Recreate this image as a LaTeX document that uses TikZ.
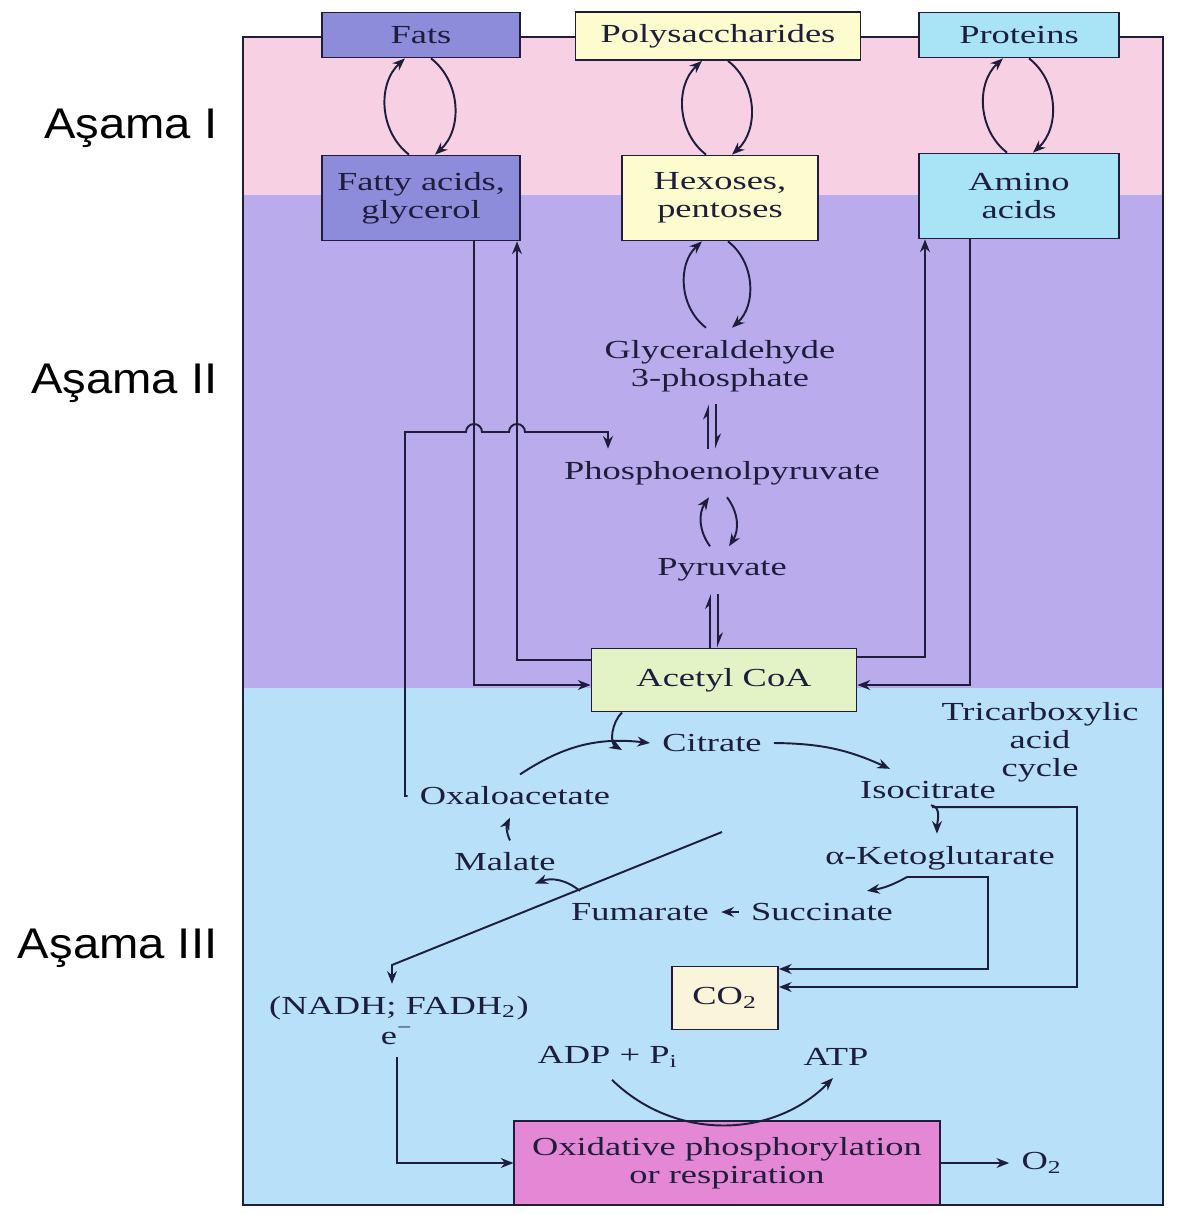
\documentclass[tikz,border=0pt]{standalone}
\usepackage{fontspec}
\setmainfont{Liberation Serif}[FakeStretch=1.4]
\newfontfamily\stagefont{Liberation Sans}[FakeStretch=1.1]
\usetikzlibrary{arrows.meta}

\definecolor{ink}{RGB}{30,30,60}
\definecolor{pinkbg}{RGB}{247,208,228}
\definecolor{lilacbg}{RGB}{186,172,236}
\definecolor{skybg}{RGB}{184,224,248}
\definecolor{fatfill}{RGB}{140,140,218}
\definecolor{sugarfill}{RGB}{252,252,206}
\definecolor{protfill}{RGB}{168,228,246}
\definecolor{acetylfill}{RGB}{228,243,198}
\definecolor{cofill}{RGB}{250,244,218}
\definecolor{oxidfill}{RGB}{228,136,214}

\begin{document}
\begin{tikzpicture}[x=0.01cm, y=0.01cm,
	every node/.style={font=\fontsize{7.4}{8}\selectfont, text=ink},
	box/.style={draw=ink, line width=0.5pt, align=center, inner sep=1pt},
	stage/.style={font=\stagefont\fontsize{12.2}{14}\selectfont, text=black, anchor=east, inner sep=0pt},
	link/.style={draw=ink, line width=0.55pt, -{Stealth[length=3.6pt,width=2.8pt]}},
	harp/.style={draw=ink, line width=0.55pt, -{Stealth[harpoon,length=3.6pt,width=2.8pt]}}]
	\useasboundingbox (0,0) rectangle (1178,-1214);
	% the three stages
	\fill[pinkbg] (243,-37) rectangle (1163,-195);
	\fill[lilacbg] (243,-195) rectangle (1163,-688);
	\fill[skybg] (243,-688) rectangle (1163,-1205);
	\draw[ink, line width=0.6pt] (243,-37) rectangle (1163,-1205);
	\foreach \y/\t in {128/I, 383/II, 948/III}
		\node[stage] (st\t) at (218,-\y) {Aşama \t};

	% stage I and II boxes
	\node[box, fill=fatfill, minimum width=1.98cm, minimum height=0.45cm] (fats) at (421,-35) {Fats};
	\node[box, fill=sugarfill, minimum width=2.85cm, minimum height=0.48cm] (poly) at (718,-36) {Polysaccharides};
	\node[box, fill=protfill, minimum width=2cm, minimum height=0.45cm] (prot) at (1019,-35) {Proteins};
	\node[box, fill=fatfill, minimum width=1.98cm, minimum height=0.85cm] (fatty) at (421,-198) {Fatty acids,\\glycerol};
	\node[box, fill=sugarfill, minimum width=1.96cm, minimum height=0.85cm] (hex) at (720,-198) {Hexoses,\\pentoses};
	\node[box, fill=protfill, minimum width=2cm, minimum height=0.85cm] (amino) at (1019,-196) {Amino\\acids};
	\node[align=center] (gap) at (720,-366) {Glyceraldehyde\\3-phosphate};
	\node (pep) at (722,-473) {Phosphoenolpyruvate};
	\node (pyr) at (722,-570) {Pyruvate};
	\node[box, fill=acetylfill, minimum width=2.65cm, minimum height=0.63cm] (acetyl) at (724,-680) {Acetyl CoA};

	% stage III
	\node (cit) at (712,-743) {Citrate};
	\node (iso) at (928,-790) {Isocitrate};
	\node (akg) at (940,-858) {α-Ketoglutarate};
	\node (suc) at (822,-912) {Succinate};
	\node (fum) at (640,-912) {Fumarate};
	\node (mal) at (505,-862) {Malate};
	\node (oxa) at (515,-796) {Oxaloacetate};
	\node[align=center] (tca) at (1040,-742) {Tricarboxylic\\acid\\cycle};
	\node[box, fill=cofill, minimum width=1.06cm, minimum height=0.63cm] (co2) at (725,-998) {CO\textsubscript{2}};
	\node (nadh) at (399,-1008) {(NADH; FADH\textsubscript{2})};
	\node (elec) at (397,-1036) {e\textsuperscript{−}};
	\node (adp) at (608,-1057) {ADP + P\textsubscript{i}};
	\node (atp) at (836,-1057) {ATP};
	\node[box, fill=oxidfill, minimum width=4.25cm, minimum height=0.84cm] (oxid) at (727,-1163) {Oxidative phosphorylation\\or respiration};
	\node (otwo) at (1042,-1163) {O\textsubscript{2}};

	% two-way arcs
	\foreach \up/\dn/\x in {fats/fatty/421, poly/hex/718, prot/amino/1019, hex/gap/718} {
		\draw[link] (\x-12,0 |- \dn.north) to[bend left=50] (\x-16,0 |- \up.south);
		\draw[link] (\x+10,0 |- \up.south) to[bend left=50] (\x+14,0 |- \dn.north);
	}
	\draw[link] (710,0 |- pyr.north) to[bend left=35] (709,0 |- pep.south);
	\draw[link] (727,0 |- pep.south) to[bend left=35] (729,0 |- pyr.north);
	\draw[harp] (708,0 |- pep.north) -- (708,0 |- gap.south);
	\draw[harp] (716,0 |- gap.south) -- (716,0 |- pep.north);
	\draw[harp] (710,0 |- acetyl.north) -- (710,0 |- pyr.south);
	\draw[harp] (718,0 |- pyr.south) -- (718,0 |- acetyl.north);

	% side routes to and from acetyl CoA
	\draw[link] (474,0 |- fatty.south) |- ([yshift=-0.05cm]acetyl.west);
	\draw[link] ([yshift=0.2cm]acetyl.west) -| (517,0 |- fatty.south);
	\draw[link] ([yshift=0.23cm]acetyl.east) -| (925,0 |- amino.south);
	\draw[link] (970,0 |- amino.south) |- ([yshift=-0.05cm]acetyl.east);
	\draw[link] (oxa.west) -| (405,-432) -- (466,-432) arc[start angle=180, end angle=0, radius=0.08cm]
		-- (509,-432) arc[start angle=180, end angle=0, radius=0.08cm] -- (608,-432) -- (608,0 |- pep.north);

	% the cycle
	\coordinate (merge) at (622,-750);
	\coordinate (kfork) at (907,-877);
	\coordinate (redox) at (722,-832);
	\draw[link] (622,0 |- acetyl.south) to[out=225,in=150] (merge);
	\draw[link] ([xshift=0.05cm]oxa.north) to[bend left=20] (cit.west);
	\draw[link] (cit.east) to[bend left=12] ([xshift=-0.38cm]iso.north);
	\draw[link] ([xshift=0.03cm, yshift=0.06cm]iso.south) to[out=-10,in=90] (937,0 |- akg.north);
	\draw[link] (kfork) to[bend left=10] ([xshift=0.45cm]suc.north);
	\draw[link] (suc.west) -- (fum.east);
	\draw[link] ([xshift=-0.6cm]fum.north) to[bend right=30] ([xshift=0.3cm]mal.south);
	\draw[link] (510,0 |- mal.north) to[bend left=25] (510,0 |- oxa.south);
	\draw[link] (kfork) -- (988,-877) |- ([yshift=0.29cm]co2.east);
	\draw[link] ([xshift=0.04cm, yshift=0.04cm]iso.south) -- (1077,-807) |- ([yshift=0.11cm]co2.east);
	\draw[link] (redox) -- (392,-965) -- (392,0 |- nadh.north);

	% respiration
	\draw[link] (elec.south) |- (oxid.west);
	\draw[link] (oxid.east) -- (otwo.west);
	\draw[link] ([xshift=0.04cm]adp.south) to[bend right=45] ([xshift=-0.03cm]atp.south);
\end{tikzpicture}
\end{document}
